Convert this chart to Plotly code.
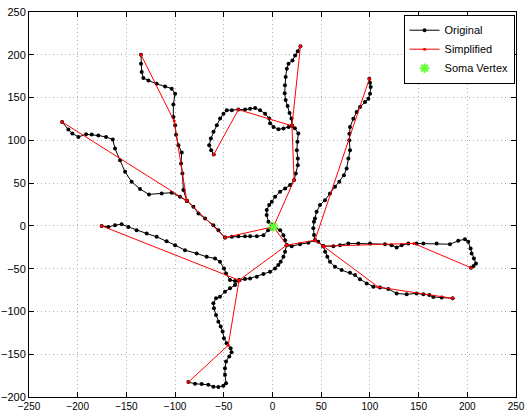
import plotly.graph_objects as go

# ---------------- Original (black) traced branches ----------------
b1_x = [1, -0.7, -4.5, -9.3, -16.1, -23, -28.2, -35, -41.8, -48.7]
b1_y = [-1, -3, -5, -10.9, -12, -12, -12, -12, -12.8, -13.6]

b2_x = [-48.7, -55.5, -60.7, -69.2, -76, -81.2, -88]
b2_y = [-13.6, -5, 0.8, 8.5, 14.4, 22.4, 29.5]

b3_x = [-88, -95, -103.5, -113.8, -126.8, -136, -144.6, -151.4, -156.5, -161.7, -164,
        -170.9, -178.8, -185.6, -191.4, -199.3, -205.5, -209.6, -216]
b3_y = [29.5, 34, 38.8, 38, 36.8, 43, 51.6, 63.2, 76.8, 90.4, 101,
        104, 105.6, 106.8, 107, 104, 108, 112.6, 121.5]

b4_x = [-88, -91.5, -92.5, -93.9, -93.2, -96.6, -99, -100, -101.8, -101.8, -100,
        -103.5, -110.3, -118.9, -127.4, -132.6, -134.3, -135, -135]
b4_y = [29.5, 41.9, 61.3, 73, 85.8, 94.3, 106.5, 117.6, 127.3, 142, 154.5,
        160.4, 163, 166, 170, 172.8, 179.8, 189.5, 200]

b5_x = [1, -0.7, -4.2, -6, -5.9, -3.4, -0.7, 2.7, 7.8, 13, 18.1, 22.2, 23.9, 26, 26,
        25, 25.6, 26.5, 23, 20]
b5_y = [-1, 1.6, 4.7, 12.7, 18.6, 24.4, 28.3, 34.1, 40, 43.8, 47.7, 53.5, 61.3, 71, 78.8,
        88.5, 98.2, 108, 114, 117]

b6_x = [20, 19.5, 17.5, 15.5, 13.5, 12.5, 12.8, 13.5, 14.7, 16.4, 20.5, 23.2, 26, 28.7]
b6_y = [117, 125.4, 132, 140, 147, 155, 164.3, 174, 183.7, 189.5, 193.4, 199.2, 204, 210]

b7_x = [20, 16.4, 11.3, 6.1, 1, -2.5, -3.4, -7.6, -12.7, -17.8, -23, -28.1, -35, -41.8,
        -46.9, -50.3, -53.8, -57.2, -60.6, -63.3, -65, -63, -60.3]
b7_y = [117, 115.7, 113.8, 113, 115.7, 120, 125.4, 131.2, 135.1, 137.8, 137, 135.9, 135.9,
        135.1, 135.1, 131.2, 125.4, 117.6, 109.9, 102.1, 94.3, 88.5, 83.5]

b8_x = [1, 7.9, 11.2, 12.9, 14.6]
b8_y = [-1, -5, -10.9, -16.7, -22.5]

b9_x = [14.6, 12.9, 11.2, 8.4, 6, 2.6, -2.5, -9.3, -16.1, -23, -28.2, -34.3]
b9_y = [-22.5, -30.3, -36.1, -42, -45.8, -49.7, -53.6, -56.3, -59.4, -61.4, -62.2, -63.5]

b10_x = [-34.3, -38.5, -43.6, -47.7, -49.8, -53.9, -59, -67.6, -77.9, -89.8, -100, -108.7,
         -118.9, -129.2, -139.5, -148, -154.9, -161.7, -168.5, -175.4]
b10_y = [-63.5, -64.5, -63.3, -55.6, -49.7, -42, -38.1, -36.1, -32.2, -28.4, -22.5, -17.9,
         -12.8, -8.9, -5, -1.2, 1.9, 0.8, -1.2, 0]

b11_x = [-34.3, -38.5, -43.6, -48.8, -53.9, -58, -60.7, -60.1, -58, -55.6, -53.2, -51.2,
         -49.8, -47.1, -43, -42, -44.4, -47.7, -48.8, -48.8, -47.7, -50.5, -55.6, -60.7,
         -65.9, -72.7, -79.6, -86.4]
b11_y = [-63.5, -69.2, -73, -76.9, -82.7, -84.7, -90.5, -96.3, -104.1, -111.9, -117.7,
         -123.5, -131.3, -137.1, -143, -147.6, -152.7, -158.5, -166.3, -174, -183.8, -186.9,
         -188.4, -188, -185.7, -184.9, -184.5, -182.6]

b12_x = [14.6, 19.7, 28.2, 36.8, 43.6]
b12_y = [-22.5, -23.7, -21.4, -19.8, -16.7]

b13_x = [43.6, 42.6, 41.9, 42.6, 43.6, 45.3, 48.8, 53.9, 59, 64.2, 68.6, 73.4, 76.1, 77.9,
         79.6, 78.9, 78.9, 79.6, 83, 86.4, 89.8, 95, 98.4, 100.1, 100.8, 100.1, 99.4]
b13_y = [-16.7, -10.7, -2.9, 4.8, 8.7, 16.5, 24.3, 30.1, 37.9, 45.7, 51.5, 59.3, 67.1, 78.7,
         88.4, 100, 107.8, 115.6, 125.3, 133.1, 138.9, 144.8, 148.6, 154.4, 162.2, 167.3, 171.9]

b14_x = [43.6, 47, 52.2]
b14_y = [-16.7, -18.6, -23.7]

b15_x = [52.2, 62.5, 69.3, 77.9, 88.1, 100.1, 115.5, 122.3, 127.5, 132.6, 139.5, 148, 154.9,
         168.5, 182.2, 190.7, 197.6, 201, 203.4, 204.4, 206.8, 208.9, 206.5, 203.7]
b15_y = [-23.7, -23.7, -22.5, -20.6, -20.6, -20.6, -21.4, -22.5, -25.3, -22.5, -20.6, -20.6,
         -20.6, -20.6, -21.4, -17.5, -15.5, -18.6, -26.4, -32.2, -38.1, -43.9, -47, -48.9]

b16_x = [52.2, 54, 56.3, 59, 64.2, 71, 79.6, 84.7, 89.8, 96.7, 103.5, 110.4, 118.9, 127.5,
         137.7, 148, 154.9, 161, 165.1, 173.7, 185]
b16_y = [-23.7, -30.3, -36.1, -42, -47.8, -51.7, -54.8, -57.5, -62.5, -67.2, -71.1, -71.9,
         -73.8, -78.9, -80, -78.9, -80, -80.8, -83.1, -83.8, -84.6]

# ---------------- Simplified (red) vertices ----------------
simp_nodes = {
    "S": (1, -1), "A": (-48.7, -13.6), "B": (-88, 29.5), "Lend": (-216, 121.5),
    "U1": (-101, 122.5), "Uend": (-135, 200), "C": (14.6, -22.5), "D": (-34.3, -63.5),
    "LLend": (-175.4, 0), "E": (-45.4, -139.5), "F": (-86.4, -182.6), "G": (22.2, 53.5),
    "H": (20, 117), "Tend": (28.7, 210), "I": (-35, 135.9), "Hend": (-60.3, 83.5),
    "J": (43.6, -16.7), "URend": (99.4, 171.9), "K": (52.2, -23.7), "L": (145, -20.5),
    "Rend": (203.7, -48.9), "M": (108.6, -71.5), "LRend": (185, -84.6),
}
simp_paths = [
    ["Uend", "U1", "B", "A", "S"],
    ["Lend", "B"],
    ["S", "G", "H", "Tend"],
    ["H", "I", "Hend"],
    ["S", "C", "D", "E", "F"],
    ["D", "LLend"],
    ["C", "J", "URend"],
    ["J", "K", "L", "Rend"],
    ["K", "M", "LRend"],
]

soma_x = [1]
soma_y = [-1]

tick_x = [-250, -200, -150, -100, -50, 0, 50, 100, 150, 200, 250]
tick_y = [-200, -150, -100, -50, 0, 50, 100, 150, 200, 250]
tick_x_text = [str(v).replace("-", "\u2212") for v in tick_x]
tick_y_text = [str(v).replace("-", "\u2212") for v in tick_y]

branches = [(b1_x, b1_y), (b2_x, b2_y), (b3_x, b3_y), (b4_x, b4_y), (b5_x, b5_y),
            (b6_x, b6_y), (b7_x, b7_y), (b8_x, b8_y), (b9_x, b9_y), (b10_x, b10_y),
            (b11_x, b11_y), (b12_x, b12_y), (b13_x, b13_y), (b14_x, b14_y),
            (b15_x, b15_y), (b16_x, b16_y)]

ox, oy = [], []
for bx, by in branches:
    ox += list(bx) + [None]
    oy += list(by) + [None]

sx, sy = [], []
for p in simp_paths:
    sx += [simp_nodes[n][0] for n in p] + [None]
    sy += [simp_nodes[n][1] for n in p] + [None]

FONT = "Liberation Sans, Arial, Helvetica, sans-serif"

fig = go.Figure()
fig.add_trace(go.Scatter(x=ox, y=oy, mode="lines+markers", name="Original",
                         line=dict(color="black", width=1),
                         marker=dict(color="black", size=4), connectgaps=False))
fig.add_trace(go.Scatter(x=sx, y=sy, mode="lines+markers", name="Simplified",
                         line=dict(color="red", width=1),
                         marker=dict(color="red", size=3), connectgaps=False))
fig.add_trace(go.Scatter(x=soma_x, y=soma_y, mode="markers", name="Soma Vertex",
                         marker=dict(color="#66ff33", size=8, symbol="asterisk-open",
                                     line=dict(color="#66ff33", width=2))))

axis_common = dict(showline=True, linecolor="black", linewidth=1, mirror="ticks",
                   ticks="inside", ticklen=5, tickcolor="black",
                   showgrid=True, gridcolor="#b0b0b0", griddash="1px,3px", gridwidth=1,
                   zeroline=False, automargin=False)

fig.update_layout(
    width=530, height=412,
    margin=dict(l=29, r=14, t=12, b=15),
    paper_bgcolor="white", plot_bgcolor="white",
    font=dict(family=FONT, size=11, color="black"),
    xaxis=dict(range=[-250, 250], tickvals=tick_x, ticktext=tick_x_text,
               tickfont=dict(family=FONT, size=10, color="black"), **axis_common),
    yaxis=dict(range=[-200, 250], tickvals=tick_y, ticktext=tick_y_text,
               tickfont=dict(family=FONT, size=11, color="black"), **axis_common),
    legend=dict(x=0.997, y=0.993, xanchor="right", yanchor="top",
                bordercolor="black", borderwidth=1, bgcolor="white",
                font=dict(family=FONT, size=11, color="black"), tracegroupgap=0),
    showlegend=True,
)

fig.write_html("out.html", config={"displayModeBar": False},
               post_script="document.body.style.margin='0';document.body.style.overflow='hidden';")
